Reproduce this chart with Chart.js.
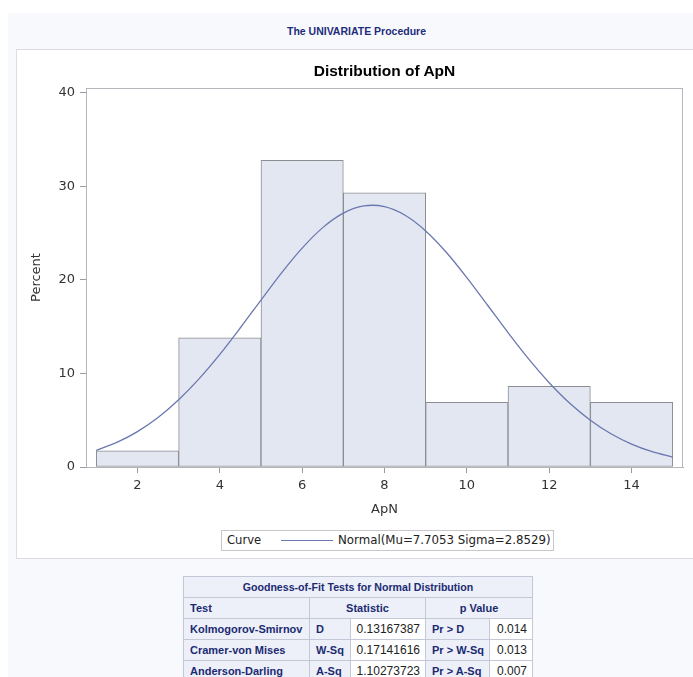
<!DOCTYPE html>
<html>
<head>
<meta charset="utf-8">
<script src="https://cdn.jsdelivr.net/npm/chart.js@4.4.0/dist/chart.umd.min.js"></script>
<style>
  html, body { margin: 0; padding: 0; background: #fff; }
  body { width: 693px; height: 677px; position: relative; overflow: hidden; font-family: "Liberation Sans", Arial, sans-serif; }
  #page { position: absolute; left: 8px; top: 13px; width: 700px; height: 680px; background: #f8f9fd; }
  #proc { position: absolute; left: 0; top: 12px; width: 697px; text-align: center; font-size: 10.5px; font-weight: bold; color: #1f2d7a; line-height: 12px; }
  #panel { position: absolute; left: 16px; top: 49px; width: 700px; height: 508px; background: #fff; border: 1px solid #dcdde2; }
  #chartWrap { position: absolute; left: 0; top: 0; width: 676px; height: 508px; }
  #title { position: absolute; left: 69px; top: 11px; width: 597px; text-align: center; line-height: 20px;
           font-size: 15.5px; font-weight: bold; color: #000; }
  #legend { position: absolute; left: 204px; top: 480px; width: 331px; height: 19px; border: 1px solid #c8c8cc; background: #fff;
            font-family: "DejaVu Sans", sans-serif; font-size: 11.8px; color: #222; line-height: 19px; white-space: nowrap; }
  #legend .lbl { position: absolute; left: 5px; top: 0; font-size: 11.6px; }
  #legend .sample { position: absolute; left: 59px; top: 9px; width: 52px; height: 0; border-top: 1px solid #6a78b0; }
  #legend .txt { position: absolute; left: 116px; top: 0; }
  table { position: absolute; left: 183px; top: 576px; border-collapse: collapse; table-layout: fixed; width: 349px; font-size: 11px; }
  td, th { border: 1px solid #c4c8d6; height: 20px; padding: 0 6px; white-space: nowrap; overflow: hidden; }
  .hd { background: #edf0f8; color: #1c2a72; font-weight: bold; }
  .val { background: #fff; color: #222; text-align: right; font-size: 12px; padding: 0 5px; }
  .ttl { text-align: center; }
  .big { font-size: 10.6px; }
</style>
</head>
<body>
<div id="page">
  <div id="proc">The UNIVARIATE Procedure</div>
</div>
<div id="panel">
  <div id="chartWrap"><canvas id="histChart" width="676" height="508"></canvas></div>
  <div id="title">Distribution of ApN</div>
  <div id="legend">
    <span class="lbl">Curve</span>
    <span class="sample"></span>
    <span class="txt">Normal(Mu=7.7053 Sigma=2.8529)</span>
  </div>
</div>
<table>
  <colgroup><col style="width:126px"><col style="width:41px"><col style="width:75px"><col style="width:64px"><col style="width:43px"></colgroup>
  <tr><td class="hd ttl big" colspan="5">Goodness-of-Fit Tests for Normal Distribution</td></tr>
  <tr><td class="hd">Test</td><td class="hd ttl" colspan="2">Statistic</td><td class="hd ttl" colspan="2">p Value</td></tr>
  <tr><td class="hd">Kolmogorov-Smirnov</td><td class="hd">D</td><td class="val">0.13167387</td><td class="hd">Pr &gt; D</td><td class="val">0.014</td></tr>
  <tr><td class="hd">Cramer-von Mises</td><td class="hd">W-Sq</td><td class="val">0.17141616</td><td class="hd">Pr &gt; W-Sq</td><td class="val">0.013</td></tr>
  <tr><td class="hd">Anderson-Darling</td><td class="hd">A-Sq</td><td class="val">1.10273723</td><td class="hd">Pr &gt; A-Sq</td><td class="val">0.007</td></tr>
</table>

<script>
// ==================== Data ====================
const binMids = [2, 4, 6, 8, 10, 12, 14];
const binPercents = [1.72, 13.79, 32.76, 29.31, 6.90, 8.62, 6.90];

// fitted normal curve, every 0.5 units
const curveX = [1, 1.5, 2, 2.5, 3, 3.5, 4, 4.5, 5, 5.5, 6, 6.5, 7, 7.5, 8, 8.5, 9, 9.5, 10, 10.5, 11, 11.5, 12, 12.5, 13, 13.5, 14, 14.5, 15];
const curveY = [1.77, 2.63, 3.78, 5.29, 7.18, 9.44, 12.03, 14.88, 17.84, 20.75, 23.39, 25.58, 27.13, 27.90, 27.82, 26.90, 25.23, 22.95, 20.24, 17.31, 14.36, 11.55, 9.01, 6.81, 5.00, 3.55, 2.45, 1.64, 1.06];

const xTicks = [2, 4, 6, 8, 10, 12, 14];
const yTicks = [0, 10, 20, 30, 40];

// ==================== Plot frame ====================
const framePlugin = {
    id: 'frame',
    afterDatasetsDraw(chart) {
        const { ctx, chartArea: a } = chart;
        ctx.save();
        ctx.strokeStyle = '#b4b6bb';
        ctx.lineWidth = 1;
        ctx.strokeRect(a.left + 0.5, a.top + 0.5, a.right - a.left - 1, a.bottom - a.top);
        ctx.restore();
    }
};

const tickFont = { family: 'DejaVu Sans', size: 13 };

// ==================== Chart ====================
const ctx = document.getElementById('histChart').getContext('2d');
const histChart = new Chart(ctx, {
    data: {
        datasets: [{
            type: 'line',
            label: 'Normal(Mu=7.7053 Sigma=2.8529)',
            data: curveX.map((x, i) => ({ x: x, y: curveY[i] })),
            borderColor: '#6a78b0',
            borderWidth: 1.3,
            pointRadius: 0,
            tension: 0.3,
            order: 0
        }, {
            type: 'bar',
            label: 'Percent',
            data: binMids.map((x, i) => ({ x: x, y: binPercents[i] })),
            backgroundColor: '#e3e7f1',
            borderColor: '#8c8d93',
            borderWidth: 1,
            borderSkipped: false,
            barPercentage: 1,
            categoryPercentage: 1,
            order: 1
        }]
    },
    options: {
        responsive: false,
        animation: false,
        layout: { padding: { left: 0, right: 10, top: 38, bottom: 40 } },
        plugins: {
            legend: { display: false },
            tooltip: { enabled: false },
            title: { display: false }
        },
        scales: {
            x: {
                type: 'linear',
                min: 0.75,
                max: 15.25,
                offset: false,
                afterBuildTicks: (s) => { s.ticks = xTicks.map(v => ({ value: v })); },
                afterFit: (s) => { s.height = 51; },
                ticks: { color: '#333', font: tickFont, padding: 5 },
                grid: { offset: false, drawOnChartArea: false, drawTicks: true, tickLength: 6, color: '#9a9ba0' },
                border: { display: true, color: '#b4b6bb' },
                title: { display: true, text: 'ApN', color: '#333', font: tickFont, padding: { top: 0, bottom: 1 } }
            },
            y: {
                type: 'linear',
                min: 0,
                max: 40.5,
                afterBuildTicks: (s) => { s.ticks = yTicks.map(v => ({ value: v })); },
                afterFit: (s) => { s.width = 69; },
                ticks: { color: '#333', font: tickFont, padding: 5 },
                grid: { drawOnChartArea: false, drawTicks: true, tickLength: 6, color: '#9a9ba0' },
                border: { display: true, color: '#b4b6bb' },
                title: { display: true, text: 'Percent', color: '#333', font: tickFont, padding: { top: 12, bottom: 0 } }
            }
        }
    },
    plugins: [framePlugin]
});
</script>
</body>
</html>
